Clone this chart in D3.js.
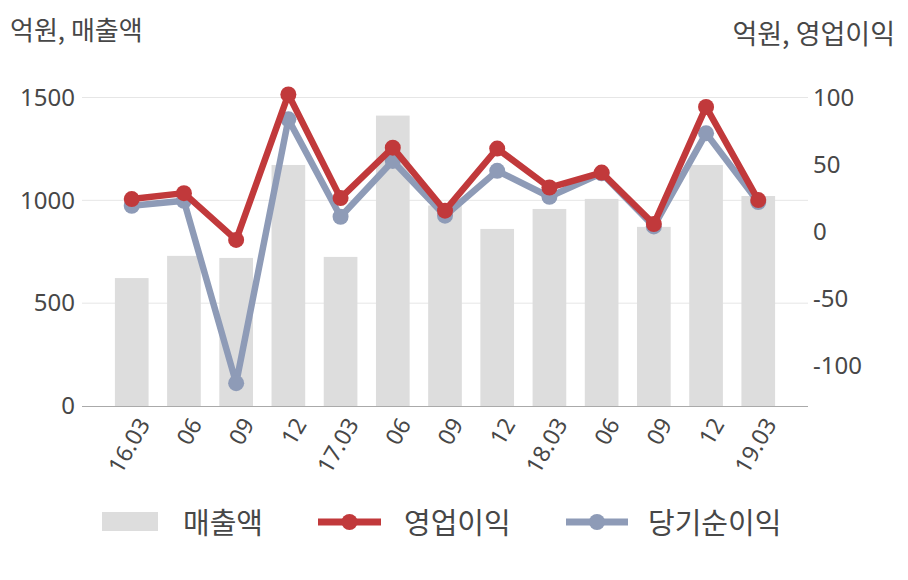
<!DOCTYPE html>
<html><head><meta charset="utf-8">
<script src="https://cdn.jsdelivr.net/npm/d3@7"></script>
<style>
html,body{margin:0;padding:0;background:#fff;}
svg{display:block;font-family:"Noto Sans CJK KR","Noto Sans",sans-serif;}
</style></head>
<body><svg id="c" width="908" height="580"></svg>
<script>
const categories = ["16.03","06","09","12","17.03","06","09","12","18.03","06","09","12","19.03"];
const sales = [622, 730, 720, 1172, 725, 1412, 975, 861, 958, 1007, 871, 1172, 1021];
const opProfit = [24.3, 28.7, -6.2, 102.3, 25, 62.6, 15.6, 61.9, 32.9, 44, 5.7, 93, 23.5];
const netProfit = [19.3, 23, -113, 83.7, 11.1, 52.7, 11.9, 45.3, 26, 43.5, 3.9, 73.3, 22];
const leftTicks = [0, 500, 1000, 1500];
const rightTicks = [-100, -50, 0, 50, 100];
const legendLabels = ["매출액", "영업이익", "당기순이익"];

const svg = d3.select("#c");
const X0 = 82, X1 = 808, Y0 = 406, Y1 = 97.5;
const x = d3.scaleBand().domain(d3.range(categories.length)).range([X0, X1]).paddingInner(0.355).paddingOuter(0.63);
const yL = d3.scaleLinear().domain([0, 1500]).range([Y0, Y1]);
const yR = d3.scaleLinear().domain([-130, 100]).range([Y0, Y1]);
const textColor = "#474747";
const red = "#c1393b", blue = "#8e9bb7", barColor = "#dddddd";
const numFont = "'Noto Sans','Noto Sans CJK KR',sans-serif";
const fmt = d => String(d);

// gridlines
svg.append("g").selectAll("line").data(leftTicks.filter(d => d > 0)).join("line")
  .attr("x1", X0).attr("x2", X1).attr("y1", d => yL(d)).attr("y2", d => yL(d))
  .attr("stroke", "#e6e6e6").attr("stroke-width", 1);

// bars
svg.append("g").selectAll("rect").data(sales).join("rect")
  .attr("x", (d, i) => x(i)).attr("width", x.bandwidth())
  .attr("y", d => yL(d)).attr("height", d => Y0 - yL(d))
  .attr("fill", barColor);

// axis line
svg.append("line").attr("x1", X0).attr("x2", X1).attr("y1", Y0 + 0.5).attr("y2", Y0 + 0.5)
  .attr("stroke", "#aaaaaa").attr("stroke-width", 1.2);

// left axis labels
const leftAxis = d3.axisLeft(yL).tickValues(leftTicks).tickFormat(fmt).tickSize(0).tickPadding(0);
const gl = svg.append("g").attr("transform", `translate(75,0)`).call(leftAxis);
gl.select(".domain").remove();
gl.selectAll("text").attr("font-size", 24).attr("fill", textColor).attr("font-family", numFont);

// right axis labels
const rightAxis = d3.axisRight(yR).tickValues(rightTicks).tickFormat(fmt).tickSize(0).tickPadding(0);
const gr = svg.append("g").attr("transform", `translate(813,0)`).call(rightAxis);
gr.select(".domain").remove();
gr.selectAll("text").attr("font-size", 24).attr("fill", textColor).attr("font-family", numFont);

// x labels
svg.append("g").selectAll("text").data(categories).join("text")
  .attr("transform", (d, i) => `translate(${x(i) + x.bandwidth() / 2 + 12},${420}) rotate(-60)`)
  .attr("text-anchor", "end").attr("dy", "0.35em")
  .attr("font-size", 23).attr("fill", textColor)
  .attr("font-family", numFont)
  .text(d => d);

// lines
function drawSeries(vals, color) {
  const line = d3.line().x((d, i) => x(i) + x.bandwidth() / 2).y(d => yR(d));
  svg.append("path").datum(vals).attr("d", line).attr("fill", "none")
    .attr("stroke", color).attr("stroke-width", 6.5).attr("stroke-linejoin", "round");
  svg.append("g").selectAll("circle").data(vals).join("circle")
    .attr("cx", (d, i) => x(i) + x.bandwidth() / 2).attr("cy", d => yR(d))
    .attr("r", 8).attr("fill", color);
}
drawSeries(netProfit, blue);
drawSeries(opProfit, red);

// titles
svg.append("text").attr("x", 10).attr("y", 40).attr("font-size", 26).attr("fill", textColor).text("억원, 매출액");
svg.append("text").attr("x", 895).attr("y", 44).attr("text-anchor", "end").attr("font-size", 27).attr("fill", textColor).text("억원, 영업이익");

// legend
const lg = svg.append("g");
lg.append("rect").attr("x", 102).attr("y", 512).attr("width", 56).attr("height", 19).attr("fill", barColor);
lg.append("text").attr("x", 183).attr("y", 534).attr("font-size", 29).attr("fill", textColor).text(legendLabels[0]);
lg.append("line").attr("x1", 318).attr("x2", 381).attr("y1", 522).attr("y2", 522).attr("stroke", red).attr("stroke-width", 7);
lg.append("circle").attr("cx", 349.5).attr("cy", 522).attr("r", 8).attr("fill", red);
lg.append("text").attr("x", 404).attr("y", 534).attr("font-size", 29).attr("fill", textColor).text(legendLabels[1]);
lg.append("line").attr("x1", 566).attr("x2", 628).attr("y1", 522).attr("y2", 522).attr("stroke", blue).attr("stroke-width", 7);
lg.append("circle").attr("cx", 597).attr("cy", 522).attr("r", 8).attr("fill", blue);
lg.append("text").attr("x", 648).attr("y", 534).attr("font-size", 29).attr("fill", textColor).text(legendLabels[2]);
</script></body></html>
